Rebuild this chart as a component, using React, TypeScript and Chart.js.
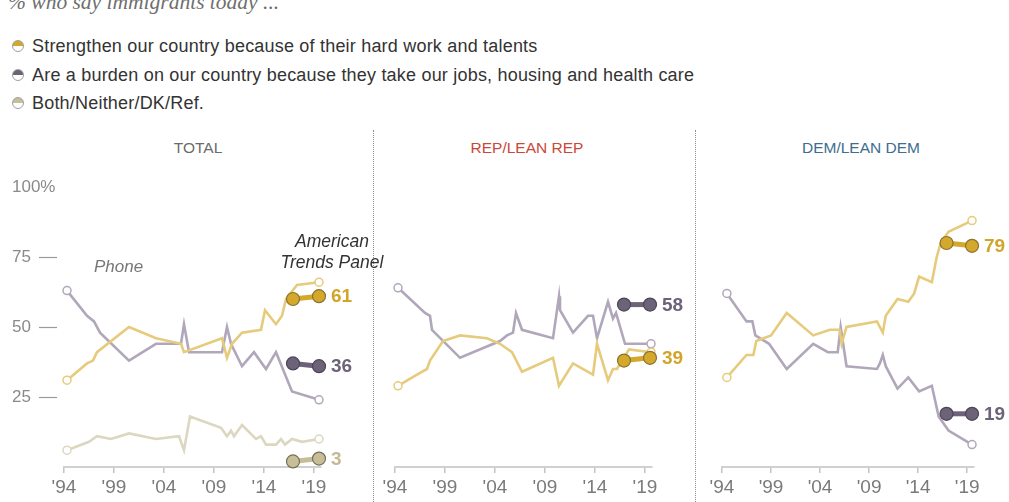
import React, { useEffect, useRef } from 'react';
import { Chart, registerables } from 'chart.js';
Chart.register(...registerables);

// ---------- DATA ----------
const xTickYears = [1994, 1999, 2004, 2009, 2014, 2019];
const yTickValues = [0, 25, 50, 75, 100];
const atpYears = [2016.9, 2019.5];

// TOTAL (phone)
const totalStrengthenYears = [1994.3, 1996.3, 1996.9, 1997.3, 2000.5, 2003.2, 2005.7, 2006.0, 2009.8, 2010.3, 2010.8, 2011.8, 2013.7, 2014.1, 2015.2, 2015.8, 2016.2, 2017.3, 2019.5];
const totalStrengthen = [31, 37, 38, 41, 50, 46, 44, 41, 46, 39, 44, 48, 49, 56, 51, 54, 60, 65, 66];
const totalBurdenYears = [1994.3, 1996.3, 1997.0, 1997.6, 2000.5, 2003.2, 2005.7, 2006.0, 2006.5, 2009.8, 2010.3, 2010.7, 2011.8, 2013.0, 2014.2, 2015.2, 2016.8, 2019.5];
const totalBurden = [63, 54, 52, 48, 38, 44, 44, 51, 41, 41, 50, 44, 36, 41, 35, 41, 27, 24];
const totalBothYears = [1994.3, 1996.5, 1997.3, 1998.7, 2000.5, 2003.2, 2005.5, 2006.0, 2006.6, 2009.7, 2010.3, 2010.7, 2011.0, 2011.8, 2013.2, 2013.7, 2014.2, 2015.2, 2015.7, 2016.1, 2016.8, 2017.8, 2019.5];
const totalBoth = [6, 9, 11, 10, 12, 10, 11, 6, 18, 14, 11, 13, 11, 15, 10, 11, 8, 8, 10, 8, 10, 9, 10];
// TOTAL (American Trends Panel)
const totalStrengthenATP = [60, 61];
const totalBurdenATP = [37, 36];
const totalBothATP = [2, 3];

// REP/LEAN REP (phone)
const repStrengthenYears = [1994.3, 1996.2, 1997.2, 1997.5, 1998.8, 2000.5, 2003.2, 2004.5, 2005.7, 2006.7, 2009.8, 2010.4, 2011.8, 2013.8, 2014.2, 2015.3, 2015.8, 2016.2, 2017.4, 2019.6];
const repStrengthen = [29, 33, 35, 38, 45, 47, 46, 44, 41, 34, 39, 29, 37, 33, 44, 31, 35, 35, 42, 41];
const repBurdenYears = [1994.3, 1997.0, 1997.5, 1997.7, 2000.5, 2004.5, 2005.2, 2005.8, 2006.1, 2006.7, 2009.8, 2010.4, 2010.5, 2011.8, 2013.3, 2013.8, 2014.2, 2015.3, 2015.8, 2016.1, 2017.0, 2019.6];
const repBurden = [64, 55, 54, 49, 39, 45, 47, 48, 55, 49, 46, 61, 56, 48, 54, 54, 46, 59, 53, 55, 44, 44];
// REP (ATP)
const repStrengthenATP = [38, 39];
const repBurdenATP = [58, 58];

// DEM/LEAN DEM (phone)
const demStrengthenYears = [1994.5, 1996.5, 1997.2, 1997.5, 1999.0, 2000.6, 2003.3, 2005.0, 2006.0, 2006.2, 2006.7, 2009.8, 2010.4, 2010.7, 2011.9, 2013.0, 2013.6, 2014.1, 2015.4, 2015.9, 2016.3, 2017.1, 2019.5];
const demStrengthen = [32, 40, 40, 45, 47, 55, 47, 49, 49, 44, 50, 52, 48, 54, 60, 59, 62, 68, 66, 75, 80, 84, 88];
const demBurdenYears = [1994.5, 1996.5, 1997.1, 1997.4, 1998.8, 2000.6, 2003.3, 2004.8, 2005.8, 2006.1, 2006.7, 2009.8, 2010.1, 2010.4, 2010.7, 2011.9, 2013.0, 2014.1, 2015.4, 2016.1, 2017.1, 2019.5];
const demBurden = [62, 52, 52, 47, 44, 35, 44, 41, 41, 50, 36, 35, 37, 40, 36, 28, 32, 27, 29, 18, 13, 8];
// DEM (ATP)
const demStrengthenATP = [80, 79];
const demBurdenATP = [19, 19];

const legendItems = [
  'Strengthen our country because of their hard work and talents',
  'Are a burden on our country because they take our jobs, housing and health care',
  'Both/Neither/DK/Ref.',
];
const panelTitles = ['TOTAL', 'REP/LEAN REP', 'DEM/LEAN DEM'];

// ---------- STYLE ----------
const FONT = '"Liberation Sans", Arial, sans-serif';
const GOLD = { line: '#e6cb7c', dot: '#d4a82b', edge: '#8a7234', text: '#d2a52a' };
const PURPLE = { line: '#b1a7bb', dot: '#6d6378', edge: '#4d4557', text: '#6d6378' };
const BOTH = { line: '#dcd7c0', dot: '#c7be97', edge: '#76705a', text: '#c3ba95' };

function phoneLine(years: number[], vals: number[], c: any) {
  const n = vals.length;
  return {
    data: vals.map((v, i) => ({ x: years[i], y: v })),
    borderColor: c.line,
    borderWidth: 2.6,
    pointRadius: vals.map((_, i) => (i === 0 || i === n - 1 ? 4 : 0)),
    pointBackgroundColor: '#ffffff',
    pointBorderColor: c.line,
    pointBorderWidth: 1.5,
    tension: 0,
    clip: false,
  };
}

function atpLine(vals: number[], c: any) {
  return {
    data: vals.map((v, i) => ({ x: atpYears[i], y: v })),
    borderColor: c.dot,
    borderWidth: 5,
    pointRadius: 6.5,
    pointBackgroundColor: c.dot,
    pointBorderColor: c.edge,
    pointBorderWidth: 1.2,
    tension: 0,
    clip: false,
    endLabel: String(vals[vals.length - 1]),
    endLabelColor: c.text,
  };
}

const endLabelPlugin = {
  id: 'endLabels',
  afterDatasetsDraw(chart: any) {
    const ctx = chart.ctx;
    chart.data.datasets.forEach((ds: any, i: number) => {
      if (!ds.endLabel) return;
      const meta = chart.getDatasetMeta(i);
      const pt = meta.data[meta.data.length - 1];
      ctx.save();
      ctx.font = `bold 19px ${FONT}`;
      ctx.fillStyle = ds.endLabelColor;
      ctx.textAlign = 'left';
      ctx.textBaseline = 'middle';
      ctx.fillText(ds.endLabel, pt.x + 12, pt.y + 1);
      ctx.restore();
    });
  },
};

const CANVAS_TOP = 120;
const CANVAS_H = 382;

function Panel(props: { left: number; width: number; padLeft: number; padRight: number; showY: boolean; datasets: any[] }) {
  const ref = useRef<HTMLCanvasElement>(null);
  useEffect(() => {
    if (!ref.current) return;
    const yScale: any = {
      type: 'linear',
      display: props.showY,
      min: 0,
      max: 100,
      afterBuildTicks: (s: any) => { s.ticks = yTickValues.map((v) => ({ value: v })); },
      ticks: {
        crossAlign: 'far',
        color: '#8a8a8a',
        font: { family: FONT, size: 17 },
        callback: (v: any) => (v === 100 ? '100%' : v === 0 ? '' : String(v)),
      },
      grid: {
        drawOnChartArea: false,
        drawTicks: true,
        tickLength: 25,
        tickWidth: 1.2,
        tickBorderDash: [18, 100],
        tickColor: (c: any) => (c.tick && (c.tick.value === 100 || c.tick.value === 0) ? 'rgba(0,0,0,0)' : '#9a9a9a'),
      },
      border: { display: false },
    };
    if (props.showY) yScale.afterFit = (s: any) => { s.width = 52; };
    const chart = new Chart(ref.current, {
      type: 'line',
      data: { datasets: props.datasets },
      plugins: [endLabelPlugin],
      options: {
        animation: false,
        responsive: false,
        maintainAspectRatio: false,
        layout: { padding: { left: props.padLeft, right: props.padRight, top: 67, bottom: 0 } },
        plugins: { legend: { display: false }, tooltip: { enabled: false } },
        scales: {
          x: {
            type: 'linear',
            min: 1994,
            max: 2019.7,
            afterBuildTicks: (s: any) => { s.ticks = xTickYears.map((v) => ({ value: v })); },
            afterFit: (s: any) => { s.height = 35; },
            ticks: {
              autoSkip: false,
              maxRotation: 0,
              padding: 3,
              color: '#7a7a7a',
              font: { family: FONT, size: 19 },
              callback: (v: any) => "'" + String(v).slice(2),
            },
            grid: { drawOnChartArea: false, drawTicks: true, tickLength: 6, color: '#c4c4c4', lineWidth: 1.5 },
            border: { display: true, color: '#d0d0d0', width: 2 },
          },
          y: yScale,
        },
      } as any,
    });
    return () => chart.destroy();
  }, []);
  return (
    <canvas
      ref={ref}
      width={props.width}
      height={CANVAS_H}
      style={{ position: 'absolute', left: props.left, top: CANVAS_TOP, width: props.width, height: CANVAS_H }}
    />
  );
}

const totalSets = [
  atpLine(totalStrengthenATP, GOLD),
  atpLine(totalBurdenATP, PURPLE),
  atpLine(totalBothATP, BOTH),
  phoneLine(totalStrengthenYears, totalStrengthen, GOLD),
  phoneLine(totalBurdenYears, totalBurden, PURPLE),
  phoneLine(totalBothYears, totalBoth, BOTH),
];
const repSets = [
  atpLine(repBurdenATP, PURPLE),
  atpLine(repStrengthenATP, GOLD),
  phoneLine(repStrengthenYears, repStrengthen, GOLD),
  phoneLine(repBurdenYears, repBurden, PURPLE),
];
const demSets = [
  atpLine(demStrengthenATP, GOLD),
  atpLine(demBurdenATP, PURPLE),
  phoneLine(demStrengthenYears, demStrengthen, GOLD),
  phoneLine(demBurdenYears, demBurden, PURPLE),
];

const legendColors = [GOLD.dot, PURPLE.dot, BOTH.dot];
const legendCenters = [46, 75, 103];
const titleCenters = [198, 527, 861];
const titleColors = ['#6b6b6b', '#c9483a', '#3e6d8e'];

export default function App() {
  return (
    <div style={{ position: 'absolute', left: 0, top: 0, width: 1009, height: 502, overflow: 'hidden', background: '#fff', fontFamily: FONT }}>
      <div style={{ position: 'absolute', left: 8, top: -9, fontFamily: '"Liberation Serif", serif', fontStyle: 'italic', fontSize: 21.5, lineHeight: '22px', color: '#6e6e6e', whiteSpace: 'nowrap' }}>
        % who say immigrants today ...
      </div>
      {legendItems.map((t, i) => (
        <div key={i} style={{ position: 'absolute', left: 12, top: legendCenters[i] - 11, height: 22, display: 'flex', alignItems: 'center', whiteSpace: 'nowrap' }}>
          <span style={{ display: 'inline-block', width: 12, height: 12, borderRadius: '50%', border: '1px solid #a0a0a0', background: `linear-gradient(to bottom, ${legendColors[i]} 50%, #ffffff 50%)`, boxSizing: 'border-box' }} />
          <span style={{ marginLeft: 8, fontSize: 18, letterSpacing: 0.2, color: '#333' }}>{t}</span>
        </div>
      ))}
      {panelTitles.map((t, i) => (
        <div key={t} style={{ position: 'absolute', left: titleCenters[i] - 100, width: 200, top: 139, textAlign: 'center', fontSize: 15.5, lineHeight: '18px', color: titleColors[i], whiteSpace: 'nowrap' }}>
          {t}
        </div>
      ))}
      <div style={{ position: 'absolute', left: 373, top: 130, height: 372, borderLeft: '1px dotted #8c8c8c' }} />
      <div style={{ position: 'absolute', left: 695, top: 130, height: 372, borderLeft: '1px dotted #8c8c8c' }} />
      <Panel left={0} width={372} padLeft={12} padRight={51} showY={true} datasets={totalSets} />
      <Panel left={373} width={322} padLeft={22} padRight={43} showY={false} datasets={repSets} />
      <Panel left={697} width={312} padLeft={25} padRight={35} showY={false} datasets={demSets} />
      <div style={{ position: 'absolute', left: 94, top: 257, fontStyle: 'italic', fontSize: 17, lineHeight: '20px', color: '#777' }}>Phone</div>
      <div style={{ position: 'absolute', left: 262, width: 140, top: 231, textAlign: 'center', fontStyle: 'italic', fontSize: 17.5, lineHeight: '21px', color: '#333' }}>
        American
        <br />
        Trends Panel
      </div>
    </div>
  );
}
